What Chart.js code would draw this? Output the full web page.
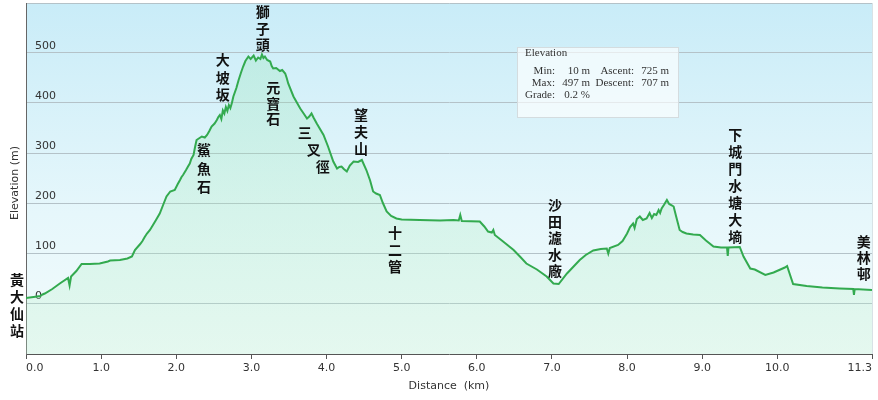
<!DOCTYPE html>
<html>
<head>
<meta charset="utf-8">
<script src="https://cdn.jsdelivr.net/npm/chart.js@4.4.1/dist/chart.umd.min.js"></script>
<style>
  html, body { margin: 0; padding: 0; background: #fff; }
  canvas { display: block; }
</style>
</head>
<body>
<canvas id="profile" width="878" height="400"></canvas>
<script>
// distance along the trail (km) and elevation (m)
const distKm = [0.00, 0.10, 0.19, 0.22, 0.25, 0.35, 0.45, 0.56, 0.58, 0.60, 0.67, 0.74, 0.85, 0.98, 1.09, 1.12, 1.25, 1.35, 1.41, 1.45,
  1.52, 1.55, 1.58, 1.61, 1.65, 1.69, 1.73, 1.78, 1.83, 1.87, 1.92, 1.98, 2.02, 2.05, 2.07, 2.09, 2.13, 2.16, 2.18, 2.20,
  2.23, 2.25, 2.27, 2.31, 2.34, 2.38, 2.41, 2.44, 2.47, 2.51, 2.54, 2.56, 2.58, 2.60, 2.62, 2.64, 2.66, 2.68, 2.70, 2.72,
  2.74, 2.76, 2.80, 2.83, 2.86, 2.89, 2.92, 2.96, 2.99, 3.03, 3.06, 3.09, 3.12, 3.14, 3.16, 3.18, 3.21, 3.25, 3.27, 3.29,
  3.33, 3.38, 3.41, 3.45, 3.47, 3.49, 3.56, 3.65, 3.70, 3.74, 3.77, 3.80, 3.83, 3.87, 3.96, 4.02, 4.09, 4.14, 4.17, 4.20,
  4.23, 4.27, 4.31, 4.36, 4.42, 4.47, 4.53, 4.58, 4.62, 4.66, 4.71, 4.75, 4.80, 4.86, 4.93, 5.00, 5.24, 5.51, 5.69, 5.76,
  5.78, 5.80, 6.04, 6.10, 6.15, 6.20, 6.22, 6.24, 6.35, 6.49, 6.58, 6.66, 6.80, 6.93, 7.02, 7.09, 7.20, 7.37, 7.45, 7.55,
  7.65, 7.73, 7.75, 7.77, 7.88, 7.94, 8.00, 8.04, 8.08, 8.10, 8.13, 8.17, 8.21, 8.26, 8.30, 8.33, 8.36, 8.39, 8.42, 8.44,
  8.46, 8.49, 8.53, 8.56, 8.60, 8.62, 8.65, 8.70, 8.74, 8.79, 8.88, 8.97, 9.05, 9.15, 9.25, 9.33, 9.34, 9.35, 9.50, 9.55,
  9.64, 9.70, 9.84, 9.95, 10.10, 10.13, 10.21, 10.39, 10.60, 10.83, 11.01, 11.02, 11.03, 11.26];
const elevM = [10, 12, 14, 17, 19, 28, 39, 50, 35, 53, 64, 78, 78, 79, 83, 85, 86, 89, 93, 106,
  118, 124, 132, 139, 146, 156, 166, 179, 198, 213, 223, 226, 238, 246, 252, 256, 266, 274, 279, 288,
  296, 312, 326, 330, 333, 331, 336, 344, 353, 359, 366, 372, 376, 368, 385, 379, 392, 384, 396, 390,
  400, 413, 430, 446, 460, 473, 484, 493, 488, 495, 485, 491, 488, 497, 490, 493, 486, 483, 474, 469,
  470, 464, 466, 459, 450, 439, 413, 389, 378, 369, 373, 379, 370, 359, 336, 313, 283, 269, 272, 273,
  268, 263, 275, 283, 282, 286, 266, 245, 223, 219, 216, 200, 183, 174, 169, 167, 166, 165, 166, 165,
  176, 164, 163, 153, 143, 141, 146, 136, 123, 106, 92, 79, 67, 53, 39, 38, 59, 86, 96, 105,
  108, 109, 99, 110, 116, 124, 139, 152, 159, 150, 168, 173, 166, 169, 180, 170, 178, 176, 186, 180,
  189, 196, 206, 198, 195, 193, 175, 146, 142, 139, 137, 136, 125, 113, 111, 111, 94, 111, 112, 93,
  69, 67, 56, 61, 71, 74, 38, 34, 31, 29, 28, 16, 28, 26];

const xTicks = [0, 1, 2, 3, 4, 5, 6, 7, 8, 9, 10, 11.26];
const yTicks = [0, 100, 200, 300, 400, 500, 600];

// place names along the route, written top to bottom
const placeNames = ['黃大仙站', '鯊魚石', '大坡坂', '獅子頭', '元寶石', '三叉徑', '望夫山', '十二管', '沙田濾水廠', '下城門水塘大墒', '美林邨'];
const placeKm = [-0.12, 2.37, 2.62, 3.15, 3.29, 3.71, 4.46, 4.91, 7.04, 9.44, 11.15];
const placeM = [46, 306, 486, 582, 430, 340, 376, 140, 196, 336, 122];
const placeStep = [17, 18.5, 17.5, 16.5, 15.5, 17, 17, 17, 16.5, 17, 16];
const placeSlant = [0, 0, 0, 0, 0, 9, 0, 0, 0, 0, 0];

const statTitle = 'Elevation';
const statRows = [
  ['Min:', '10 m', 'Ascent:', '725 m'],
  ['Max:', '497 m', 'Descent:', '707 m'],
  ['Grade:', '0.2 %', '', '']
];

const points = distKm.map((d, i) => ({ x: d, y: elevM[i] }));

const plotBackground = {
  id: 'plotBackground',
  beforeDraw(chart) {
    const { ctx, chartArea: a } = chart;
    const g = ctx.createLinearGradient(0, a.top, 0, a.bottom);
    g.addColorStop(0, '#c9ecf8');
    g.addColorStop(0.6, '#e6f7fb');
    g.addColorStop(1, '#f2fbfb');
    ctx.save();
    ctx.fillStyle = g;
    ctx.fillRect(a.left, a.top, a.right - a.left, a.bottom - a.top);
    ctx.strokeStyle = '#d8e2e6';
    ctx.beginPath();
    ctx.moveTo(a.right + 0.5, a.top);
    ctx.lineTo(a.right + 0.5, a.bottom);
    ctx.stroke();
    ctx.restore();
  }
};

const overlayText = {
  id: 'overlayText',
  afterDraw(chart) {
    const { ctx, chartArea: a } = chart;
    const xs = chart.scales.x, ys = chart.scales.y;
    ctx.save();
    // axis titles
    ctx.fillStyle = '#333';
    ctx.font = '11px "DejaVu Sans", Verdana, sans-serif';
    ctx.textAlign = 'center';
    ctx.textBaseline = 'middle';
    ctx.fillText('Distance  (km)', 449, 386);
    ctx.save();
    ctx.translate(15, 183);
    ctx.rotate(-Math.PI / 2);
    ctx.fillText('Elevation (m)', 0, 0);
    ctx.restore();

    // place names
    ctx.fillStyle = '#111';
    ctx.font = 'bold 14px "Noto Sans CJK TC", sans-serif';
    placeNames.forEach((name, i) => {
      const x0 = xs.getPixelForValue(placeKm[i]);
      const y0 = ys.getPixelForValue(placeM[i]);
      Array.from(name).forEach((ch, j) => {
        ctx.fillText(ch, x0 + placeSlant[i] * j, y0 + placeStep[i] * j);
      });
    });

    // statistics box
    const bx = a.left + 491, by = a.top + 44, bw = 161, bh = 70;
    ctx.fillStyle = 'rgba(255,255,255,0.65)';
    ctx.fillRect(bx, by, bw, bh);
    ctx.strokeStyle = '#d4dcdf';
    ctx.lineWidth = 1;
    ctx.strokeRect(bx + 0.5, by + 0.5, bw, bh);
    ctx.fillStyle = '#333';
    ctx.font = '11px "Liberation Serif", "Times New Roman", serif';
    ctx.textAlign = 'left';
    ctx.fillText(statTitle, bx + 8, by + 6);
    const colRight = [38, 73, 117, 152];
    statRows.forEach((row, r) => {
      row.forEach((txt, c) => {
        ctx.textAlign = 'right';
        ctx.fillText(txt, bx + colRight[c], by + 24 + r * 12);
      });
    });
    ctx.restore();
  }
};

new Chart(document.getElementById('profile'), {
  type: 'line',
  data: {
    datasets: [{
      data: points,
      borderColor: '#33aa4f',
      borderWidth: 2,
      pointRadius: 0,
      tension: 0,
      fill: 'start',
      backgroundColor(context) {
        const a = context.chart.chartArea;
        if (!a) return 'rgba(140,225,160,0.2)';
        const g = context.chart.ctx.createLinearGradient(0, a.top, 0, a.bottom);
        g.addColorStop(0, 'rgba(130,225,160,0.24)');
        g.addColorStop(1, 'rgba(190,240,205,0.26)');
        return g;
      }
    }]
  },
  options: {
    responsive: false,
    animation: false,
    layout: { padding: { top: 3, right: 6, left: 0, bottom: 0 } },
    plugins: { legend: { display: false }, tooltip: { enabled: false } },
    scales: {
      x: {
        type: 'linear',
        min: 0,
        max: 11.26,
        afterBuildTicks(scale) { scale.ticks = xTicks.map(v => ({ value: v })); },
        afterFit(scale) { scale.height = 46; scale.paddingLeft = 0; scale.paddingRight = 0; },
        ticks: {
          callback: v => v.toFixed(1),
          align: 'inner',
          color: '#333',
          font: { family: '"DejaVu Sans", Verdana, sans-serif', size: 11 },
          padding: 3,
          maxRotation: 0
        },
        grid: { drawOnChartArea: false, drawTicks: true, tickLength: 5, color: '#555' },
        border: { display: true, color: '#555', width: 1 }
      },
      y: {
        min: -102,
        max: 600,
        afterBuildTicks(scale) { scale.ticks = yTicks.map(v => ({ value: v })); },
        afterFit(scale) { scale.width = 26; scale.paddingTop = 0; scale.paddingBottom = 0; },
        ticks: {
          mirror: true,
          padding: 9,
          labelOffset: -7,
          callback: v => (v >= 600 ? '' : String(v)),
          color: '#333',
          font: { family: '"DejaVu Sans", Verdana, sans-serif', size: 11 }
        },
        grid: { color: '#b4c2c8', drawTicks: false },
        border: { display: true, color: '#666', width: 1 }
      }
    }
  },
  plugins: [plotBackground, overlayText]
});
</script>
</body>
</html>
